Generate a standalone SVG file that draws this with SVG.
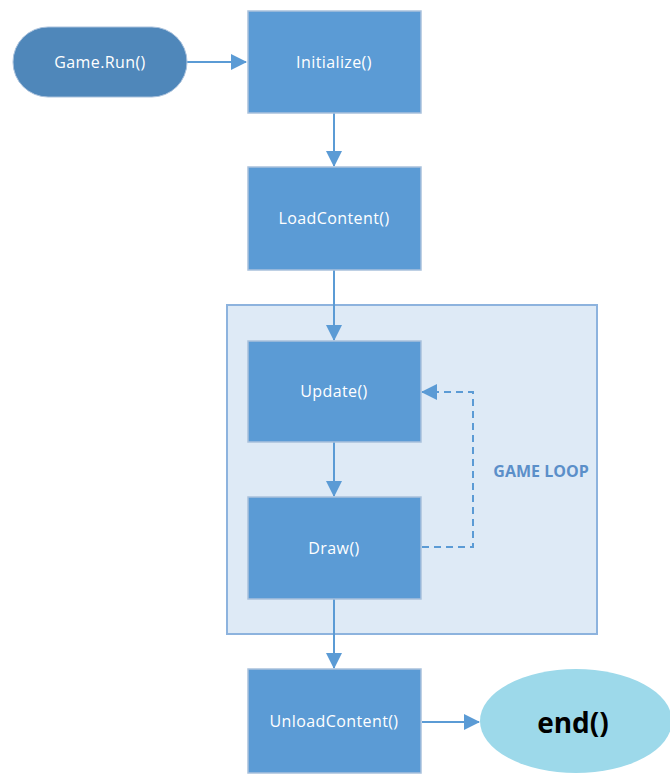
<svg xmlns="http://www.w3.org/2000/svg" width="670" height="774" viewBox="0 0 670 774">
<style>
.box{fill:#5b9bd5;stroke:#a9c1dc;stroke-width:1.5}
.lbl{font-family:"Open Sans","Noto Sans",sans-serif;font-size:16px;letter-spacing:0.4px;fill:#ffffff;text-anchor:middle;dominant-baseline:central}
.conn{stroke:#5b9bd5;stroke-width:2;fill:none}
</style>
<defs>
<marker id="arrL" markerWidth="16" markerHeight="16" refX="15" refY="8" orient="auto" markerUnits="userSpaceOnUse" viewBox="0 0 16 16">
<path d="M0,0 L16,8 L0,16 Z" fill="#5b9bd5"/>
</marker>
</defs>
<rect width="670" height="774" fill="#ffffff"/>
<g id="gameloop">
<rect x="227" y="305" width="370" height="329" fill="#deeaf6" stroke="#8db3de" stroke-width="2"/>
<text x="541" y="471" font-family="Open Sans, Noto Sans, sans-serif" font-size="16" font-weight="bold" fill="#5b8fc9" text-anchor="middle" dominant-baseline="central">GAME LOOP</text>
</g>
<g id="connectors">
<line class="conn" x1="187" y1="62" x2="246" y2="62" marker-end="url(#arrL)"/>
<line class="conn" x1="334" y1="113" x2="334" y2="166" marker-end="url(#arrL)"/>
<line class="conn" x1="334" y1="270" x2="334" y2="340" marker-end="url(#arrL)"/>
<line class="conn" x1="334" y1="442" x2="334" y2="496" marker-end="url(#arrL)"/>
<line class="conn" x1="334" y1="599" x2="334" y2="668" marker-end="url(#arrL)"/>
<line class="conn" x1="422" y1="722" x2="479" y2="722" marker-end="url(#arrL)"/>
<path class="conn" d="M422,547 H473 V392 H422" stroke-dasharray="7,5" marker-end="url(#arrL)"/>
</g>
<g id="gamerun">
<rect x="13" y="27" width="174" height="70" rx="35" fill="#4f87ba" stroke="#a9c1dc" stroke-width="1"/>
<text class="lbl" x="100" y="62">Game.Run()</text>
</g>
<g id="initialize">
<rect class="box" x="248" y="11" width="173" height="102"/>
<text class="lbl" x="334" y="62">Initialize()</text>
</g>
<g id="loadcontent">
<rect class="box" x="248" y="167" width="173" height="103"/>
<text class="lbl" x="334" y="218">LoadContent()</text>
</g>
<g id="update">
<rect class="box" x="248" y="341" width="173" height="101"/>
<text class="lbl" x="334" y="391">Update()</text>
</g>
<g id="draw">
<rect class="box" x="248" y="497" width="173" height="102"/>
<text class="lbl" x="334" y="548">Draw()</text>
</g>
<g id="unloadcontent">
<rect class="box" x="248" y="669" width="173" height="104"/>
<text class="lbl" x="334" y="721">UnloadContent()</text>
</g>
<g id="end">
<ellipse cx="576" cy="721" rx="96" ry="52" fill="#9dd9ea"/>
<text x="573" y="722" font-family="Open Sans, Noto Sans, sans-serif" font-size="28" font-weight="bold" fill="#000000" text-anchor="middle" dominant-baseline="central">end()</text>
</g>
</svg>
